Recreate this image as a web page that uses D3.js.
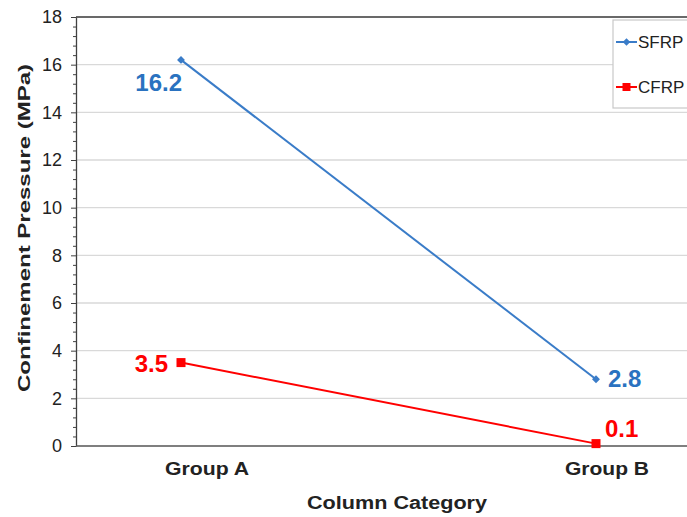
<!DOCTYPE html>
<html>
<head>
<meta charset="utf-8">
<script src="https://cdn.jsdelivr.net/npm/d3@7"></script>
<style>
  body { margin: 0; background: #fff; }
  svg { display: block; font-family: "Liberation Sans", Arial, sans-serif; }
</style>
</head>
<body>
<svg id="chart" width="687" height="517"></svg>
<script>
// chart data
var groups = ['Group A', 'Group B'];
var seriesNames = ['SFRP', 'CFRP'];
var sfrp = [16.2, 2.8];
var cfrp = [3.5, 0.1];
var yTicks = [0, 2, 4, 6, 8, 10, 12, 14, 16, 18];

var plotLeft = 76, plotRight = 687, plotTop = 17, plotBottom = 446;
var colors = ['#3a7cc8', '#ff0000'];
var labelColors = ['#2a72c0', '#ff0000'];

var svg = d3.select('#chart');

let x = d3.scalePoint().domain(groups).range([181, 596]);
let y = d3.scaleLinear().domain([0, 18]).range([plotBottom, plotTop]);

// gridlines
svg.append('g')
	.selectAll('line').data(yTicks.filter(d => d > 0)).join('line')
	.attr('x1', plotLeft).attr('x2', plotRight)
	.attr('y1', d => y(d)).attr('y2', d => y(d))
	.style('stroke', '#d9d9d9').style('stroke-width', 1.3)
;
// top border
svg.append('line')
	.attr('x1', plotLeft).attr('x2', plotRight).attr('y1', y(18)).attr('y2', y(18))
	.style('stroke', '#404040').style('stroke-width', 1.3)
;

// y axis with minor ticks
let minor = d3.range(0, 18.01, 0.4).filter(d => Math.abs(d / 2 - Math.round(d / 2)) > 0.01);
svg.append('g').attr('transform', 'translate(' + plotLeft + ',0)')
	.call(d3.axisLeft(y).tickValues(minor).tickSize(3).tickFormat(''))
	.call(g => g.select('.domain').remove())
	.selectAll('line').style('stroke', '#404040')
;
let yaxis = svg.append('g').attr('transform', 'translate(' + plotLeft + ',0)')
	.call(d3.axisLeft(y).tickValues(yTicks).tickSize(5).tickSizeOuter(0).tickPadding(9));
yaxis.select('.domain').style('stroke', '#404040').style('stroke-width', 1.3);
yaxis.selectAll('line').style('stroke', '#404040');
yaxis.selectAll('text').style('font-size', '18px').style('fill', '#222')
	.style('font-family', '"Liberation Sans", Arial, sans-serif');

// x axis line
svg.append('line')
	.attr('x1', plotLeft).attr('x2', plotRight).attr('y1', y(0)).attr('y2', y(0))
	.style('stroke', '#555').style('stroke-width', 1.6)
;

// category labels
let labelDx = [26, 11];
svg.append('g')
	.selectAll('text').data(groups).join('text')
	.attr('x', (d, i) => x(d) + labelDx[i])
	.attr('y', 475)
	.attr('text-anchor', 'middle')
	.attr('textLength', 84).attr('lengthAdjust', 'spacingAndGlyphs')
	.style('font-size', '18px').style('font-weight', 'bold').style('fill', '#222')
	.text(d => d)
;

// axis titles
svg.append('text')
	.attr('x', 397).attr('y', 509)
	.attr('text-anchor', 'middle')
	.attr('textLength', 180).attr('lengthAdjust', 'spacingAndGlyphs')
	.style('font-size', '18px').style('font-weight', 'bold').style('fill', '#222')
	.text('Column Category')
;
svg.append('text')
	.attr('transform', 'translate(30, 228) rotate(-90)')
	.attr('text-anchor', 'middle')
	.attr('textLength', 328).attr('lengthAdjust', 'spacingAndGlyphs')
	.style('font-size', '17px').style('font-weight', 'bold').style('fill', '#222')
	.text('Confinement Pressure (MPa)')
;

// lines and markers
let series = [sfrp, cfrp];
let line = d3.line().x((d, i) => x(groups[i])).y(d => y(d));
series.forEach(function(s, k) {
	svg.append('path').datum(s)
		.attr('d', line)
		.style('fill', 'none').style('stroke', colors[k]).style('stroke-width', 2);
});
svg.append('g').selectAll('path').data(sfrp).join('path')
	.attr('transform', (d, i) => 'translate(' + x(groups[i]) + ',' + y(d) + ')')
	.attr('d', d3.symbol(d3.symbolDiamond2, 40))
	.style('fill', colors[0])
;
svg.append('g').selectAll('rect').data(cfrp).join('rect')
	.attr('x', (d, i) => x(groups[i]) - 4.5).attr('y', d => y(d) - 4.5)
	.attr('width', 9).attr('height', 9)
	.style('fill', colors[1])
;

// data labels
let labelPos = [
	[{dx: 1, dy: 31, anchor: 'end'}, {dx: 12, dy: 8, anchor: 'start'}],
	[{dx: -13, dy: 9, anchor: 'end'}, {dx: 9, dy: -7, anchor: 'start'}]
];
series.forEach(function(s, k) {
	svg.append('g').selectAll('text').data(s).join('text')
		.attr('x', (d, i) => x(groups[i]) + labelPos[k][i].dx)
		.attr('y', d => y(d))
		.attr('dy', (d, i) => labelPos[k][i].dy)
		.attr('text-anchor', (d, i) => labelPos[k][i].anchor)
		.style('font-size', '24px').style('font-weight', 'bold').style('fill', labelColors[k])
		.text(d => d3.format('.1f')(d))
	;
});

// legend
let legend = svg.append('g').attr('transform', 'translate(613, 20)');
legend.append('rect')
	.attr('x', 0).attr('y', 0).attr('width', 90).attr('height', 88)
	.style('fill', '#fff').style('stroke', '#c8c8c8').style('stroke-width', 1.2)
;
let entries = legend.selectAll('g').data(seriesNames).join('g')
	.attr('transform', (d, i) => 'translate(0,' + (22 + i * 45) + ')');
entries.append('line')
	.attr('x1', 3).attr('x2', 24).attr('y1', 0).attr('y2', 0)
	.style('stroke', (d, i) => colors[i]).style('stroke-width', 2);
entries.append('path')
	.attr('transform', 'translate(13.5,0)')
	.attr('d', (d, i) => i == 0 ? d3.symbol(d3.symbolDiamond2, 36)() : d3.symbol(d3.symbolSquare, 64)())
	.style('fill', (d, i) => colors[i]);
entries.append('text')
	.attr('x', 25).attr('y', 6)
	.style('font-size', '17px').style('fill', '#222')
	.text(d => d)
;
</script>
</body>
</html>
